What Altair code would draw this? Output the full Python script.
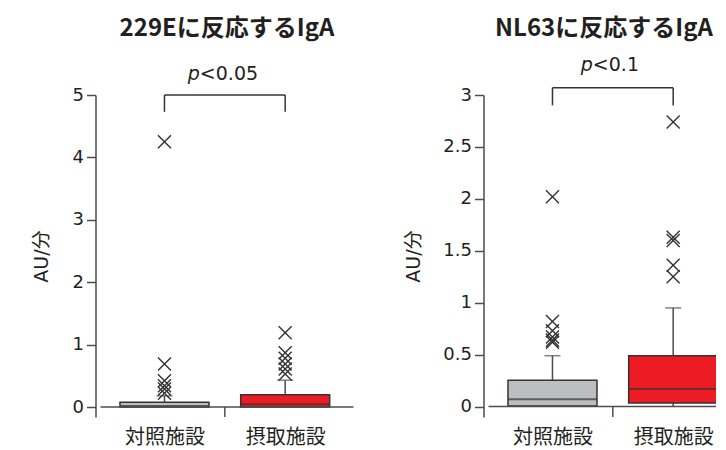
import altair as alt
import pandas as pd

FONT = "Noto Sans CJK JP"
NUMFONT = "DejaVu Sans, Noto Sans CJK JP"
TXT = "#231F20"
AXC = "#4D4D4D"

cats = ["対照施設", "摂取施設"]
pos = [0, 1]
box_colors = ["#BCBEC0", "#ED1C24"]

# Panel 1: 229E
p1_title = "229Eに反応するIgA"
p1_q1 = [0.0, 0.0]
p1_med = [0.015, 0.045]
p1_q3 = [0.075, 0.195]
p1_lo = [0.0, 0.0]
p1_hi = [0.18, 0.43]
p1_out_ctrl = [4.25, 0.69, 0.42, 0.34, 0.29, 0.22]
p1_out_int = [1.19, 0.87, 0.78, 0.69, 0.61, 0.53]
p1_yticks = [0, 1, 2, 3, 4, 5]
p1_ydom = [-0.16, 5]
p1_pval = "<0.05"

# Panel 2: NL63
p2_title = "NL63に反応するIgA"
p2_q1 = [0.005, 0.035]
p2_med = [0.07, 0.17]
p2_q3 = [0.253, 0.49]
p2_lo = [0.0, 0.0]
p2_hi = [0.49, 0.95]
p2_out_ctrl = [2.02, 0.82, 0.73, 0.67, 0.64, 0.62]
p2_out_int = [2.74, 1.63, 1.60, 1.36, 1.25]
p2_yticks = [0, 0.5, 1, 1.5, 2, 2.5, 3]
p2_ydom = [-0.1, 3]
p2_pval = "<0.1"

XDOM = [-0.53, 1.566]
W, H = 263, 322
BOXW = 89
XSHAPE = "M-1,-1L1,1M1,-1L-1,1"


def panel(title, q1, med, q3, lo, hi, out_c, out_i, yticks, ydom,
          brk_top, brk_leg, p_y, pval, p_dx, title_offset, title_pad, title_dx):
    box = pd.DataFrame({"cat": cats, "pos": pos, "q1": q1, "med": med,
                        "q3": q3, "lo": lo, "hi": hi,
                        "top": [brk_top] * 2, "leg": [brk_leg] * 2})
    outl = pd.DataFrame({"pos": [0] * len(out_c) + [1] * len(out_i),
                         "v": out_c + out_i})
    misc = pd.DataFrame({"xa": [XDOM[0]], "xb": [XDOM[1]], "zero": [0.0],
                         "ymin": [ydom[0]], "bx": [0.5], "b0": [0], "b1": [1],
                         "top": [brk_top], "py": [p_y]})

    xs = alt.Scale(domain=XDOM, nice=False, zero=False)
    ys = alt.Scale(domain=ydom, nice=False, zero=False)
    label_expr = "datum.value == 0 ? '%s' : (datum.value == 1 ? '%s' : '')" % (cats[0], cats[1])
    xaxis = alt.Axis(values=pos, labelExpr=label_expr, domain=False, ticks=False,
                     grid=False, title=None, labelFont=FONT, labelFontSize=20,
                     labelColor=TXT, labelPadding=10, labelAngle=0)
    yaxis = alt.Axis(values=yticks, format="~g", grid=False, title="AU/分",
                     titleFont=NUMFONT, titleFontSize=19, titleFontWeight="normal",
                     titleColor=TXT, titlePadding=title_pad, labelFont=NUMFONT,
                     labelFontSize=18, labelColor=TXT, labelPadding=3,
                     tickSize=9, tickColor=AXC, tickWidth=1.5,
                     domainColor=AXC, domainWidth=1.5)

    def X(f):
        return alt.X(f, type="quantitative", scale=xs, axis=xaxis)

    def Y(f):
        return alt.Y(f, type="quantitative", scale=ys, axis=yaxis)

    base = alt.Chart(box)
    whisk_hi = base.mark_rule(color=AXC, strokeWidth=1.5).encode(
        x=X("pos"), y=Y("q3"), y2="hi")
    whisk_lo = base.mark_rule(color=AXC, strokeWidth=1.5).encode(
        x=X("pos"), y=Y("lo"), y2="q1")
    caps = base.mark_tick(orient="horizontal", size=16, thickness=1.5,
                          color=AXC).encode(x=X("pos"), y=Y("hi"))
    boxes = base.mark_bar(size=BOXW, stroke="#333333", strokeWidth=1.5,
                          opacity=1, clip=True).encode(
        x=X("pos"), y=Y("q1"), y2="q3",
        color=alt.Color("cat:N", scale=alt.Scale(domain=cats, range=box_colors),
                        legend=None))
    meds = base.mark_tick(orient="horizontal", size=BOXW, thickness=2,
                          color="#333333", clip=True).encode(x=X("pos"), y=Y("med"))
    outs = alt.Chart(outl).mark_point(shape=XSHAPE, size=170, filled=False,
                                      stroke="#333333", strokeWidth=1.4,
                                      opacity=1).encode(x=X("pos"), y=Y("v"))
    mbase = alt.Chart(misc)
    xline = mbase.mark_rule(color=AXC, strokeWidth=1.5).encode(
        x=X("xa"), x2="xb", y=Y("zero"))
    btick = mbase.mark_rule(color=AXC, strokeWidth=1.5).encode(
        x=X("bx"), y=Y("zero"), y2="ymin")
    bh = mbase.mark_rule(color="#333333", strokeWidth=1.5).encode(
        x=X("b0"), x2="b1", y=Y("top"))
    blegs = base.mark_rule(color="#333333", strokeWidth=1.5).encode(
        x=X("pos"), y=Y("top"), y2="leg")
    ptxt = mbase.mark_text(text="p", font=NUMFONT, fontSize=19, fontStyle="italic",
                           align="right", baseline="middle", color=TXT,
                           dx=p_dx[0]).encode(x=X("bx"), y=Y("py"))
    vtxt = mbase.mark_text(text=pval, font=NUMFONT, fontSize=19, align="left",
                           baseline="middle", color=TXT,
                           dx=p_dx[1]).encode(x=X("bx"), y=Y("py"))

    return alt.layer(whisk_hi, whisk_lo, caps, boxes, meds, outs, xline, btick,
                     bh, blegs, ptxt, vtxt).properties(
        width=W, height=H,
        title=alt.TitleParams(title, font=FONT, fontSize=24, fontWeight="bold",
                              color=TXT, anchor="middle", frame="group",
                              offset=title_offset, dx=title_dx))


left = panel(p1_title, p1_q1, p1_med, p1_q3, p1_lo, p1_hi, p1_out_ctrl,
             p1_out_int, p1_yticks, p1_ydom, 5.0, 4.73, 5.34, p1_pval,
             (-25, -25), 23.5, 21, 0)
right = panel(p2_title, p2_q1, p2_med, p2_q3, p2_lo, p2_hi, p2_out_ctrl,
              p2_out_int, p2_yticks, p2_ydom, 3.07, 2.90, 3.29, p2_pval,
              (-20, -20), 14.5, 19, -11)

chart = alt.hconcat(left, right, spacing=46).properties(
    padding={"left": 23.5, "top": 9, "right": -31, "bottom": 6}
).configure_view(stroke="transparent", strokeWidth=0)

chart.save("out.html", embed_options={"renderer": "svg", "actions": False})
